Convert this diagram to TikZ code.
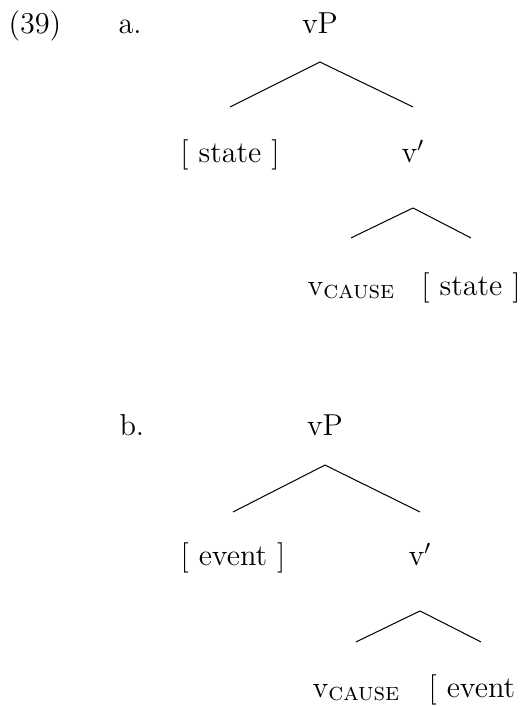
\documentclass[tikz,border=0pt,12pt]{standalone}
\usetikzlibrary{positioning}
\tikzset{
  lbl/.style={inner sep=0pt, anchor=base west},
  cat/.style={inner sep=0pt, anchor=base},
  branch/.style={line width=0.4pt, black},
}
\newcommand{\vcause}{v\raisebox{-1.3pt}{\footnotesize\textsc{cause}}}

\begin{document}
\begin{tikzpicture}[x=0.396pt, y=-0.396pt]
  \useasboundingbox (0,0) rectangle (532,706);
  % example number and labels
  \node[lbl] (exnum) at (8,33) {(39)};
  \node[lbl] (lblA) at (118,33) {a.};
  \node[lbl] (lblB) at (119,435) {b.};
  % tree a
  \node[cat] (vpA)   at (320,33)  {vP};
  \node[cat] (specA) at (230,162) {[ state ]};
  \node[cat] (vbarA) at (413,162) {v$'$};
  \node[cat] (headA) at (351,295) {\vcause};
  \node[cat] (compA) at (471,295) {[ state ]};
  % tree b
  \node[cat] (vpB)   at (325,435) {vP};
  \node[cat] (specB) at (233,565) {[ event ]};
  \node[cat] (vbarB) at (420,565) {v$'$};
  \node[cat] (headB) at (356,697) {\vcause};
  \begin{scope}
    \clip (400,640) rectangle (516,706);
    \node[cat] (compB) at (481,697) {[ event ]};
  \end{scope}
  \foreach \a/\b/\s/\t in {vpA/specA/11.5/21.8, vpA/vbarA/11.5/21.8,
      vbarA/headA/18.2/22.6, vbarA/compA/18.2/22.6,
      vpB/specB/11.9/21, vpB/vbarB/11.9/21,
      vbarB/headB/18.2/21.8, vbarB/compB/18.2/21.8}
    \draw[branch] ([yshift=-\s pt]\a.base) -- ([yshift=\t pt]\b.base);
\end{tikzpicture}
\end{document}
